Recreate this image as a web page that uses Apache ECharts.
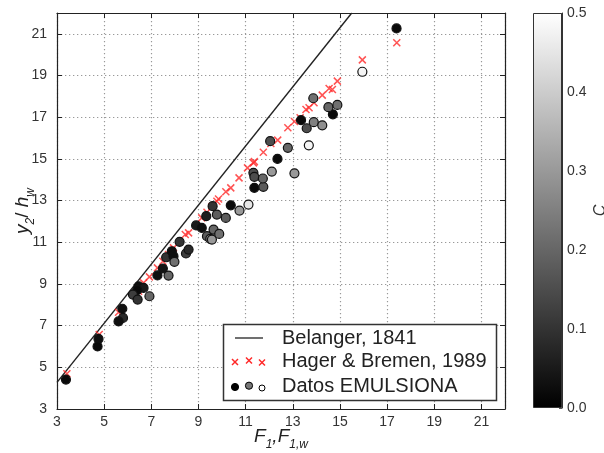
<!DOCTYPE html>
<html><head><meta charset="utf-8">
<script src="https://cdn.jsdelivr.net/npm/echarts@6/dist/echarts.min.js"></script>
<style>html,body{margin:0;padding:0;background:#fff}#c{width:604px;height:453px}</style>
</head><body><div id="c"></div>
<script>
// ---- data ----
const xTickLabels = ['3','5','7','9','11','13','15','17','19','21'];
const yTickLabels = ['3','5','7','9','11','13','15','17','19','21'];
const cTickLabels = ['0.0','0.1','0.2','0.3','0.4','0.5'];

const belangerF = [3, 15.5];
const belangerY = [4.28, 22];

const hagerF = [3.42,4.79,5.61,6.46,6.67,6.92,7.26,7.49,7.73,7.94,8.44,8.58,9.14,9.36,9.57,9.78,9.85,10.16,10.37,10.72,11.08,11.33,11.37,11.75,12.07,12.36,12.79,13.07,13.31,13.56,13.69,13.90,14.25,14.54,14.68,14.89,15.95,17.41];
const hagerY = [4.69,6.57,7.64,8.65,9.05,9.34,9.77,10.09,10.41,10.73,11.37,11.45,12.17,12.44,12.70,12.97,13.08,13.42,13.61,14.09,14.57,14.81,14.87,15.32,15.74,15.90,16.49,16.79,16.97,17.37,17.45,17.69,18.06,18.38,18.33,18.73,19.75,20.57];

const emulF = [3.38,4.76,4.72,5.77,5.80,5.61,6.46,6.67,6.40,6.22,6.42,6.92,7.26,7.49,7.73,7.63,7.87,7.94,7.98,8.20,8.47,8.58,8.90,9.14,9.33,9.60,9.78,9.36,9.64,9.50,9.57,9.88,10.16,10.37,10.74,11.12,11.37,11.75,11.33,11.37,11.73,12.11,13.07,12.35,12.04,12.79,13.68,13.35,13.59,13.89,14.25,14.70,14.51,14.89,13.87,15.95,17.40];
const emulY = [4.41,6.36,6.00,7.81,7.37,7.20,8.89,8.81,8.70,8.49,8.25,8.41,9.41,9.74,9.40,10.28,10.57,10.33,10.06,11.02,10.46,10.65,11.81,11.69,12.25,12.73,12.33,11.29,11.61,11.16,11.13,11.40,12.17,12.77,12.52,12.81,13.61,13.66,14.33,14.14,14.06,14.39,14.31,15.00,15.85,15.53,15.65,16.86,16.47,16.76,16.61,17.14,17.48,17.59,17.91,19.18,21.26];
const emulC = [0.02,0.03,0.02,0.03,0.08,0.03,0.03,0.05,0.02,0.12,0.10,0.20,0.03,0.04,0.20,0.10,0.03,0.03,0.22,0.10,0.12,0.08,0.05,0.03,0.06,0.10,0.18,0.18,0.20,0.28,0.30,0.22,0.18,0.02,0.30,0.45,0.02,0.18,0.15,0.15,0.20,0.30,0.30,0.02,0.15,0.20,0.48,0.02,0.15,0.25,0.28,0.02,0.20,0.22,0.22,0.48,0.02];

const legendNames = ['Belanger, 1841', 'Hager & Bremen, 1989', 'Datos EMULSIONA'];
const cMax = 0.5;

// ---- build ----
const FONT = '"Liberation Sans", Arial, sans-serif';
const chart = echarts.init(document.getElementById('c'), null, {renderer: 'canvas'});

const tickFmt = labels => v => { const s = String(Math.round(v)); return labels.includes(s) ? s : ''; };

const axisCommon = {
  axisLine: {show: true, onZero: false, lineStyle: {color: '#222', width: 1.2}},
  axisTick: {show: true, inside: true, length: 5, lineStyle: {color: '#222'}},
};
const gridLine = {show: true, lineStyle: {color: '#999', type: [1.3, 2.7], width: 1.2}};

const crossPath = 'path://M0,0L10,10M10,0L0,10';

const legendGraphics = [];
legendGraphics.push({type: 'rect', z: 100, shape: {x: 223.5, y: 324.5, width: 273, height: 76}, style: {fill: '#fff', stroke: '#333', lineWidth: 1.5}});
legendGraphics.push({type: 'line', z: 101, shape: {x1: 235, y1: 338, x2: 263, y2: 338}, style: {stroke: '#222', lineWidth: 1.3}});
[[235, 362], [249, 360.5], [262, 362.5]].forEach(p => {
  legendGraphics.push({type: 'polyline', z: 101, shape: {points: [[p[0]-3, p[1]-3], [p[0]+3, p[1]+3]]}, style: {stroke: '#ff2828', lineWidth: 1.5, fill: null}});
  legendGraphics.push({type: 'polyline', z: 101, shape: {points: [[p[0]+3, p[1]-3], [p[0]-3, p[1]+3]]}, style: {stroke: '#ff2828', lineWidth: 1.5, fill: null}});
});
[[235, 387, '#000', 3.6], [249, 385.7, '#777', 3.6], [262, 388, '#fff', 3]].forEach(p => {
  legendGraphics.push({type: 'circle', z: 101, shape: {cx: p[0], cy: p[1], r: p[3]}, style: {fill: p[2], stroke: '#000', lineWidth: 1}});
});
[338, 361.5, 386].forEach((y, i) => {
  legendGraphics.push({type: 'text', z: 101, x: 282, y: y, style: {text: legendNames[i], font: '20px ' + FONT, fill: '#222', textVerticalAlign: 'middle', verticalAlign: 'middle'}});
});

const option = {
  backgroundColor: '#fff',
  animation: false,
  textStyle: {fontFamily: FONT},
  grid: [
    {left: 57, top: 13, width: 448, height: 396, show: false, containLabel: false, outerBoundsMode: 'none'},
    {left: 533, top: 13, width: 29, height: 395, show: false, containLabel: false, outerBoundsMode: 'none'}
  ],
  xAxis: [
    Object.assign({}, axisCommon, {
      gridIndex: 0, type: 'value', min: 3, max: 22, interval: 2, position: 'bottom',
      axisLabel: {fontSize: 14, color: '#333', margin: 6, showMaxLabel: false, formatter: tickFmt(xTickLabels), fontFamily: FONT},
      splitLine: gridLine,
      name: '{i|F}{s|1}{i|,F}{s|1,w}', nameLocation: 'middle', nameGap: 18, nameMoveOverlap: false,
      nameTextStyle: {rich: {
        i: {fontSize: 19, fontStyle: 'italic', color: '#222', fontFamily: FONT, padding: [0, 0, 5, 0], verticalAlign: 'bottom'},
        s: {fontSize: 12, fontStyle: 'italic', color: '#222', fontFamily: FONT, verticalAlign: 'bottom'}
      }}
    }),
    Object.assign({}, axisCommon, {
      gridIndex: 0, type: 'value', min: 3, max: 22, interval: 2, position: 'top',
      axisLabel: {show: false}, splitLine: {show: false}
    }),
    {gridIndex: 1, type: 'category', data: ['c'], show: false}
  ],
  yAxis: [
    Object.assign({}, axisCommon, {
      gridIndex: 0, type: 'value', min: 3, max: 22, interval: 2, position: 'left',
      axisLabel: {fontSize: 14, color: '#333', margin: 10, showMaxLabel: false, formatter: tickFmt(yTickLabels), fontFamily: FONT},
      splitLine: gridLine,
      name: '{i|y}{s|2}{n|/ }{i|h}{s|w}', nameLocation: 'middle', nameGap: 20, nameRotate: 90, nameMoveOverlap: false,
      nameTextStyle: {rich: {
        i: {fontSize: 19, fontStyle: 'italic', color: '#222', fontFamily: FONT, padding: [0, 0, 5, 0], verticalAlign: 'bottom'},
        n: {fontSize: 19, color: '#222', fontFamily: FONT, padding: [0, 0, 5, 0], verticalAlign: 'bottom'},
        s: {fontSize: 12, fontStyle: 'italic', color: '#222', fontFamily: FONT, verticalAlign: 'bottom'}
      }}
    }),
    Object.assign({}, axisCommon, {
      gridIndex: 0, type: 'value', min: 3, max: 22, interval: 2, position: 'right',
      axisLabel: {show: false}, splitLine: {show: false}
    }),
    {
      gridIndex: 1, type: 'value', min: 0, max: cMax, interval: 0.1, position: 'right',
      axisLine: {show: true, lineStyle: {color: '#333', width: 1}},
      axisTick: {show: true, inside: true, length: 3, lineStyle: {color: '#555'}},
      axisLabel: {fontSize: 14, color: '#333', margin: 5, formatter: v => cTickLabels[Math.round(v * 10)] || '', fontFamily: FONT},
      splitLine: {show: false},
      name: 'C', nameLocation: 'middle', nameGap: 31, nameRotate: 90,
      nameTextStyle: {fontSize: 16, fontStyle: 'italic', color: '#333', fontFamily: FONT}
    }
  ],
  visualMap: {
    type: 'continuous', show: false, min: 0, max: cMax, dimension: 2, seriesIndex: 2,
    inRange: {color: ['#000000', '#ffffff']}
  },
  series: [
    {
      name: legendNames[0], type: 'line', xAxisIndex: 0, yAxisIndex: 0,
      data: belangerF.map((f, i) => [f, belangerY[i]]), showSymbol: false, symbol: 'none',
      lineStyle: {color: '#222', width: 1.4}, clip: true, z: 3
    },
    {
      name: legendNames[1], type: 'scatter', xAxisIndex: 0, yAxisIndex: 0,
      data: hagerF.map((f, i) => [f, hagerY[i]]), symbol: crossPath, symbolSize: 7,
      itemStyle: {color: 'rgba(0,0,0,0)', borderColor: '#ff2828', borderWidth: 1.5}, z: 4
    },
    {
      name: legendNames[2], type: 'scatter', xAxisIndex: 0, yAxisIndex: 0,
      data: emulF.map((f, i) => [f, emulY[i], emulC[i]]), symbol: 'circle', symbolSize: 9,
      itemStyle: {borderColor: '#111', borderWidth: 1.2, opacity: 1}, z: 5
    },
    {
      type: 'bar', xAxisIndex: 2, yAxisIndex: 2, data: [cMax], barWidth: '100%',
      itemStyle: {
        color: new echarts.graphic.LinearGradient(0, 1, 0, 0, [{offset: 0, color: '#000'}, {offset: 1, color: '#fff'}]),
        borderColor: '#333', borderWidth: 1
      },
      silent: true
    }
  ],
  graphic: legendGraphics
};
chart.setOption(option);
</script></body></html>
